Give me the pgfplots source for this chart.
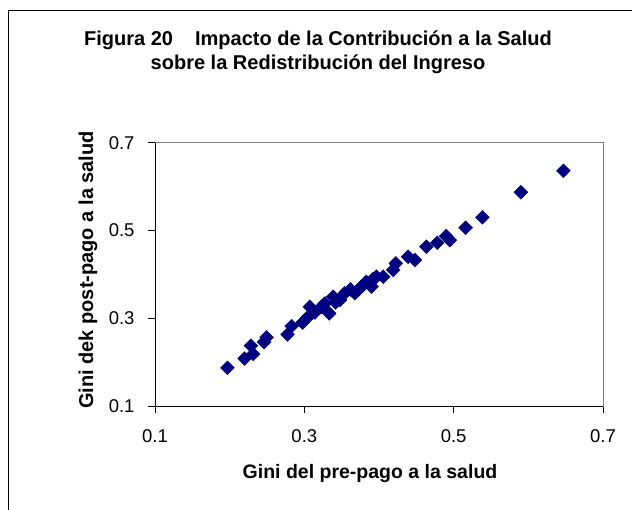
\documentclass[border=0pt]{standalone}
\usepackage{fontspec}
\setmainfont{Liberation Sans}
\usepackage{pgfplots}
\pgfplotsset{compat=1.18}
\definecolor{navy}{RGB}{0,0,128}
\definecolor{plotgray}{RGB}{128,128,128}
\pgfplotstableread{
x y
0.197 0.187
0.220 0.208
0.2285 0.2375
0.2316 0.2185
0.2459 0.2455
0.2494 0.2565
0.2775 0.263
0.283 0.282
0.2976 0.2899
0.303 0.2997
0.3074 0.326
0.314 0.313
0.323 0.326
0.3275 0.3336
0.3333 0.311
0.3386 0.349
0.3417 0.336
0.3476 0.3415
0.354 0.357
0.3618 0.3658
0.3676 0.357
0.372 0.364
0.3766 0.372
0.383 0.383
0.390 0.372
0.392 0.389
0.3966 0.3947
0.4056 0.3947
0.419 0.410
0.4225 0.425
0.439 0.440
0.448 0.4326
0.4635 0.463
0.478 0.472
0.490 0.4873
0.4947 0.478
0.516 0.5063
0.5385 0.530
0.590 0.587
0.647 0.636
}\datatable
\begin{document}
\begin{tikzpicture}[x=1pt,y=1pt]
\useasboundingbox (0,0) rectangle (632,509);
\draw[line width=1pt] (8,-5) -- (8,498) -- (640,498);
\begin{axis}[
  at={(155pt,103pt)}, anchor=south west,
  scale only axis, width=448pt, height=263.3pt,
  xmin=0.1, xmax=0.7, ymin=0.1, ymax=0.7,
  xtick={0.1,0.3,0.5,0.7}, ytick={0.1,0.3,0.5,0.7},
  tick align=outside, tick pos=left, major tick length=7pt,
  tick style={black, line width=0.8pt},
  axis line style={plotgray, line width=0.8pt},
  ticklabel style={font=\fontsize{18.5}{22}\selectfont},
  xticklabel style={yshift=-13pt},
  yticklabel style={xshift=-10pt},
  /pgf/number format/.cd, fixed, precision=1, fixed zerofill, assume math mode=true,
]
\addplot[only marks, mark=square*, mark size=4.9pt, color=navy,
  mark options={rotate=45, fill=navy, draw=navy}] table[x=x,y=y] {\datatable};
\draw[black, line width=0.9pt] (rel axis cs:0,1) -- (rel axis cs:0,0) -- (rel axis cs:1,0);
\end{axis}
\node[font=\bfseries\fontsize{20}{24}\selectfont, anchor=base] at (318,509-46)
  {Figura 20\hspace{1.1em}Impacto de la Contribución a la Salud};
\node[font=\bfseries\fontsize{20}{24}\selectfont, anchor=base] at (318,509-70)
  {sobre la Redistribución del Ingreso};
\node[font=\bfseries\fontsize{19.5}{23}\selectfont] at (370,509-474) {Gini del pre-pago a la salud};
\node[font=\bfseries\fontsize{20}{24}\selectfont, rotate=90] at (88,509-270) {Gini dek post-pago a la salud};
\end{tikzpicture}
\end{document}
